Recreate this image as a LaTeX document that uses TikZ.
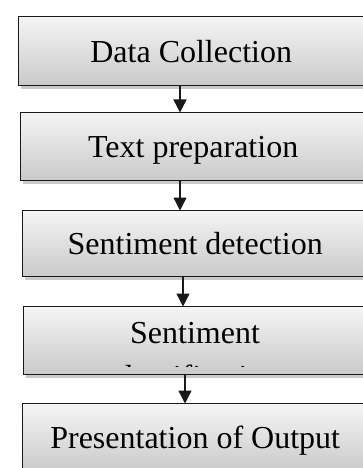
\documentclass[tikz,border=0pt]{standalone}
\usepackage{fontspec}
\setmainfont{Liberation Serif}
\usetikzlibrary{shadows,arrows.meta}
\begin{document}
\begin{tikzpicture}[x=1pt,y=-1pt,
  stagebox/.style={draw=black!90, line width=1.4pt, rectangle,
    top color=gray!8, bottom color=gray!42,
    drop shadow={shadow xshift=2pt, shadow yshift=-3pt, opacity=0.35, fill=black!60},
    anchor=north west, minimum width=345pt, inner sep=0pt,
    font=\fontsize{32}{37}\selectfont, text height=22pt, text depth=0pt},
  flow/.style={line width=1.4pt, draw=black!90,
    -{Triangle[length=13pt,width=13pt]}, shorten >=-0.5pt}
]
\useasboundingbox (0,0) rectangle (363,468);
\clip (0,0) rectangle (363,468);
\fill[white] (0,0) rectangle (363,468);

\node[stagebox, minimum height=69pt] (b1) at (18,16) {Data Collection};
\node[stagebox, minimum height=68pt] (b2) at (20,112) {Text preparation};
\node[stagebox, minimum height=66pt] (b3) at (22,210) {Sentiment detection};
\node[stagebox, minimum height=68pt] (b4) at (23,306) {};
\node[stagebox, minimum height=68pt] (b5) at (22,403) {Presentation of Output};

% two-line label of the fourth stage; the second line is cut off by the box
\node[anchor=base, font=\fontsize{32}{37}\selectfont, inner sep=0pt] (t4) at (195,343) {Sentiment};
\begin{scope}
  \clip (24,306) rectangle (363,366);
  \node[anchor=base, font=\fontsize{32}{37}\selectfont, inner sep=0pt] (t4b) at (195,387) {classification};
\end{scope}

\coordinate (a1) at (180,0);
\coordinate (a2) at (180,0);
\coordinate (a3) at (183,0);
\coordinate (a4) at (185,0);
\draw[flow] (b1.south -| a1) -- (b2.north -| a1);
\draw[flow] (b2.south -| a2) -- (b3.north -| a2);
\draw[flow] (b3.south -| a3) -- (b4.north -| a3);
\draw[flow] (b4.south -| a4) -- (b5.north -| a4);
\end{tikzpicture}
\end{document}
